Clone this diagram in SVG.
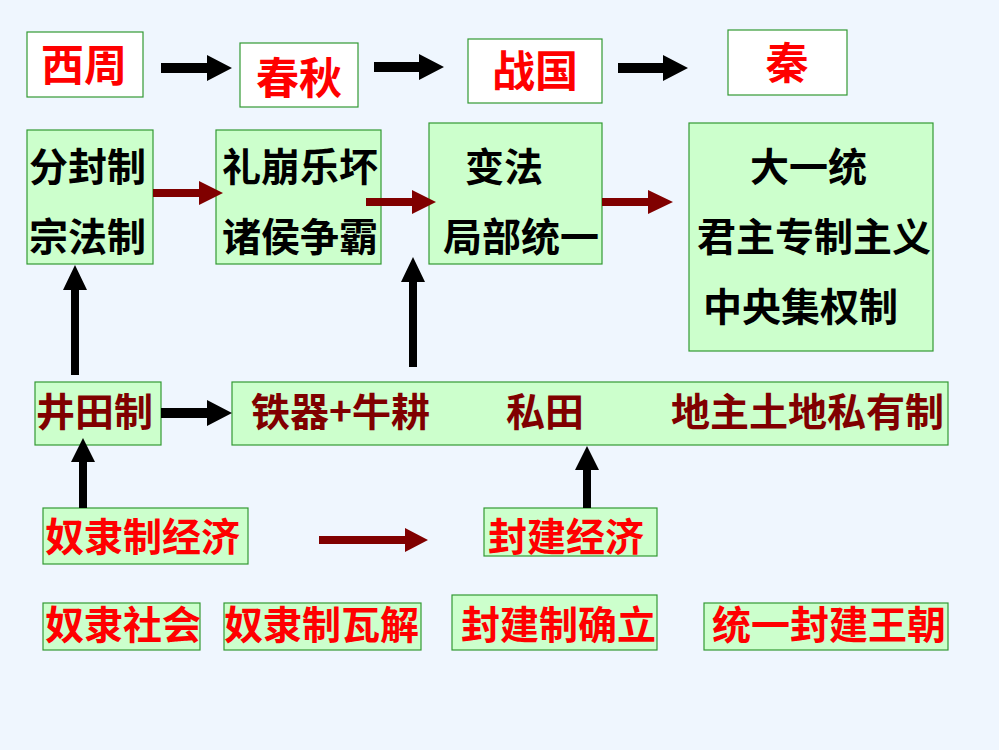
<svg xmlns="http://www.w3.org/2000/svg" width="999" height="750" viewBox="0 0 999 750">
<style>
text{font-family:"Noto Sans CJK SC","Liberation Sans",sans-serif;font-weight:bold;font-size:39px}
.w{fill:#ffffff;stroke:#339933;stroke-width:1.2}
.g{fill:#ccffcc;stroke:#339933;stroke-width:1.2}
.red{fill:#ff0000}
.blk{fill:#000000}
.dr{fill:#800000}
.top{font-size:43px}
.ab{fill:#000000}
.ar{fill:#800000}
</style>
<rect x="0" y="0" width="999" height="750" fill="#eff6fe"/>

<g id="xizhou"><rect class="w" x="27" y="32" width="116" height="65"/><text class="red top" x="84" y="81" text-anchor="middle">西周</text></g>
<g id="chunqiu"><rect class="w" x="240" y="43" width="118" height="64"/><text class="red top" x="299" y="94" text-anchor="middle">春秋</text></g>
<g id="zhanguo"><rect class="w" x="468" y="39" width="134" height="64"/><text class="red top" x="535" y="87" text-anchor="middle">战国</text></g>
<g id="qin"><rect class="w" x="728" y="30" width="119" height="65"/><text class="red top" x="787" y="79" text-anchor="middle">秦</text></g>

<g id="fenfeng"><rect class="g" x="27" y="130" width="126" height="134"/><text class="blk" x="29" y="181">分封制</text><text class="blk" x="29" y="251">宗法制</text></g>
<g id="libeng"><rect class="g" x="216" y="130" width="165" height="134"/><text class="blk" x="222" y="181">礼崩乐坏</text><text class="blk" x="222" y="251">诸侯争霸</text></g>
<g id="bianfa"><rect class="g" x="429" y="123" width="173" height="141"/><text class="blk" x="465" y="181">变法</text><text class="blk" x="443" y="251">局部统一</text></g>
<g id="dayitong"><rect class="g" x="689" y="123" width="244" height="228"/><text class="blk" x="750" y="181">大一统</text><text class="blk" x="697" y="251">君主专制主义</text><text class="blk" x="703" y="321">中央集权制</text></g>

<g id="jingtian"><rect class="g" x="35" y="382" width="126" height="63"/><text class="dr" x="36" y="426">井田制</text></g>
<g id="tieqi"><rect class="g" x="232" y="382" width="716" height="63"/><text class="dr" x="251" y="426">铁器+牛耕</text><text class="dr" x="506" y="426">私田</text><text class="dr" x="671" y="426">地主土地私有制</text></g>

<g id="nulijingji"><rect class="g" x="43" y="508" width="205" height="56"/><text class="red" x="45" y="551">奴隶制经济</text></g>
<g id="fengjianjingji"><rect class="g" x="484" y="508" width="173" height="48"/><text class="red" x="488" y="551">封建经济</text></g>

<g id="nulishehui"><rect class="g" x="43" y="603" width="157" height="47"/><text class="red" x="45" y="639">奴隶社会</text></g>
<g id="nuliwajie"><rect class="g" x="224" y="603" width="197" height="47"/><text class="red" x="224" y="639">奴隶制瓦解</text></g>
<g id="fengjianqueli"><rect class="g" x="452" y="595" width="205" height="55"/><text class="red" x="461" y="639">封建制确立</text></g>
<g id="tongyiwangchao"><rect class="g" x="704" y="603" width="244" height="47"/><text class="red" x="712" y="639">统一封建王朝</text></g>

<g id="connectors">
<polygon class="ab" points="161,63 207,63 207,55 232,68 207,81 207,73 161,73"/>
<polygon class="ab" points="374,62 419,62 419,54 444,67 419,80 419,72 374,72"/>
<polygon class="ab" points="618,63 663,63 663,55 688,68 663,81 663,73 618,73"/>
<polygon class="ar" points="153,189 199,189 199,181 223,193 199,205 199,197 153,197"/>
<polygon class="ar" points="366,198 412,198 412,190 436,202 412,214 412,206 366,206"/>
<polygon class="ar" points="602,198 648,198 648,190 673,202 648,214 648,206 602,206"/>
<polygon class="ab" points="71,375 71,290 63,290 75,265 87,290 79,290 79,375"/>
<polygon class="ab" points="409,367 409,282 401,282 413,257 425,282 417,282 417,367"/>
<polygon class="ab" points="161,408 207,408 207,400 232,413 207,426 207,418 161,418"/>
<polygon class="ab" points="79,508 79,462 71,462 83,438 95,462 87,462 87,508"/>
<polygon class="ab" points="583,508 583,470 575,470 587,446 599,470 591,470 591,508"/>
<polygon class="ar" points="319,536 405,536 405,528 428,540 405,552 405,544 319,544"/>
</g>
</svg>
